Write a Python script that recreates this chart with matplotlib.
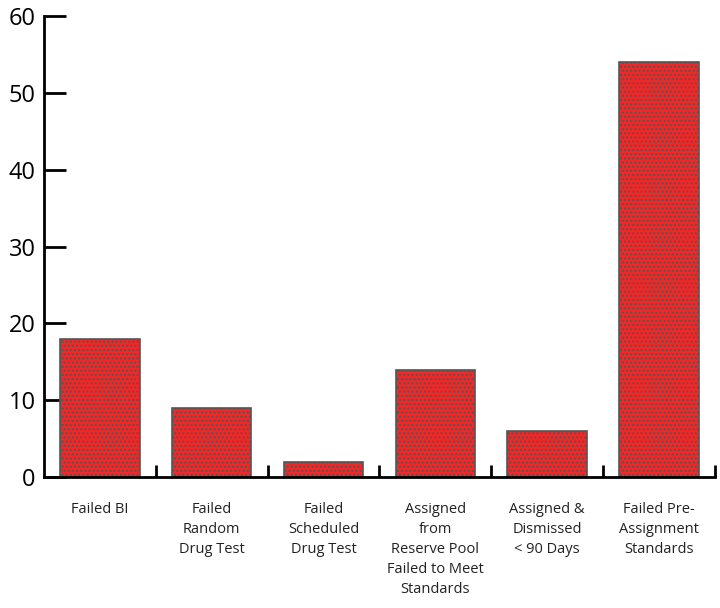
import matplotlib
matplotlib.use("Agg")
import matplotlib.pyplot as plt
import numpy as np

CATEGORIES = ["Failed BI", "Failed\nRandom\nDrug Test", "Failed\nScheduled\nDrug Test",
              "Assigned\nfrom\nReserve Pool\nFailed to Meet\nStandards",
              "Assigned &\nDismissed\n< 90 Days", "Failed Pre-\nAssignment\nStandards"]
VALUES = [18, 9, 2, 14, 6, 54]
YTICKS = [0, 10, 20, 30, 40, 50, 60]

plt.rcParams["font.family"] = "Open Sans"

fig = plt.figure(figsize=(7.2, 6.08), dpi=100)
ax = fig.add_axes([0.061, 0.215, 0.932, 0.759])

x = np.arange(len(VALUES))
ax.bar(x, VALUES, width=0.71, color="#f42626", edgecolor="#555555", linewidth=1.2,
       hatch="....", zorder=2)
plt.rcParams["hatch.color"] = "#c01818"
for b in ax.patches:
    b.set_hatch("....")

ax.set_xlim(-0.5, 5.5)
ax.set_ylim(0, 60)
ax.set_yticks(YTICKS)
ax.tick_params(axis="y", direction="in", length=16, width=2, labelsize=17, pad=6)
ax.set_xticks(x + 0.5, minor=False)
ax.set_xticklabels([])
ax.tick_params(axis="x", direction="in", length=9, width=2)
for i, lab in enumerate(CATEGORIES):
    ax.text(i, -3.2, lab, ha="center", va="top", fontsize=10.5, color="#222222",
            linespacing=1.45)

for s in ["top", "right"]:
    ax.spines[s].set_visible(False)
ax.spines["left"].set_linewidth(2)
ax.spines["bottom"].set_linewidth(2)

fig.savefig("out.png", dpi=100)
